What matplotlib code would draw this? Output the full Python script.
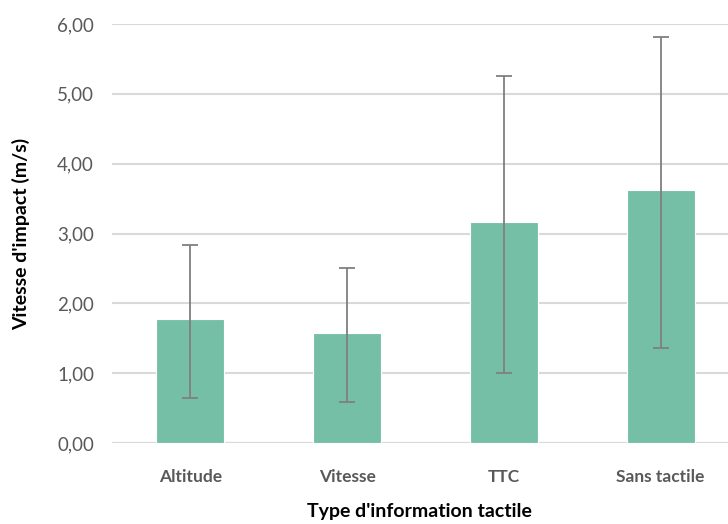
import numpy as np
import matplotlib.pyplot as plt

# data
categories = ["Altitude", "Vitesse", "TTC", "Sans tactile"]
means = [1.78, 1.57, 3.17, 3.63]
err_low = [1.13, 0.99, 2.17, 2.27]
err_high = [1.06, 0.94, 2.09, 2.19]
yticks = [0, 1, 2, 3, 4, 5, 6]

plt.rcParams['font.family'] = ['Lato', 'DejaVu Sans']

fig = plt.figure(figsize=(7.28, 5.24), dpi=100)
ax = fig.add_axes([112/728, (524-443)/524, (739-112)/728, (443-24)/524])

x = np.arange(len(categories))
ax.bar(x, means, width=0.435, color="#76BFA7", edgecolor="white", linewidth=0.8, zorder=2)
ax.errorbar(x, means, yerr=[err_low, err_high], fmt="none", ecolor="#7f7f7f",
            elinewidth=1.3, capsize=6, capthick=1.3, zorder=3)

ax.set_xlim(-0.5, 3.5)
ax.set_ylim(0, 6)
ax.set_yticks(yticks)
ax.set_yticklabels([f"{v:.2f}".replace(".", ",") for v in yticks], fontsize=13.5, color="#595959")
ax.set_xticks(x)
ax.set_xticklabels(categories, fontsize=12.5, fontweight="bold", color="#595959")
ax.yaxis.grid(True, color="#d9d9d9", linewidth=1.5, zorder=0)
ax.set_axisbelow(True)
for s in ax.spines.values():
    s.set_visible(False)
ax.axhline(0, color="#d9d9d9", linewidth=1.5, zorder=1)
ax.tick_params(axis="y", length=0, pad=13)
ax.tick_params(axis="x", length=0, pad=19)

ax.set_ylabel("Vitesse d'impact (m/s)", fontsize=14, fontweight="bold")
ax.set_xlabel("Type d'information tactile", fontsize=14, fontweight="bold")
ax.xaxis.set_label_coords((419-112)/627, -0.143)
ax.yaxis.set_label_coords(-0.131, 0.5)

fig.savefig("out.png", dpi=100)
